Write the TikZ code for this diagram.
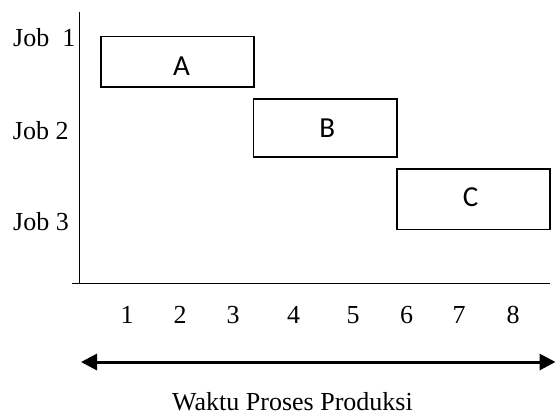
\documentclass[tikz,border=0pt]{standalone}
\usepackage{fontspec}
\setmainfont{Liberation Serif}
\newfontfamily\calibrifont{Carlito}
\usetikzlibrary{arrows.meta}
\begin{document}
\begin{tikzpicture}[x=1pt,y=-1pt,
  jobbox/.style={draw,line width=1.6pt,inner sep=0pt,anchor=north west},
  boxtext/.style={font=\calibrifont\fontsize{29}{34}\selectfont,inner sep=0pt},
  serif/.style={font=\fontsize{26}{30}\selectfont,inner sep=0pt},
  axis/.style={line width=1.6pt},
  timearrow/.style={line width=3pt,{Triangle[length=16pt,width=16pt]}-{Triangle[length=16pt,width=16pt]}}]
\useasboundingbox (0,0) rectangle (556,416);
% axes
\coordinate (vtop) at (79.5,11.5);
\coordinate (vbot) at (79.5,284);
\coordinate (hl) at (72,283.5);
\coordinate (hr) at (550,283.5);
\draw[axis] (vtop) -- (vbot);
\draw[axis] (hl) -- (hr);
% job boxes
\node[jobbox,minimum width=153.3pt,minimum height=50.3pt] (A) at (100,35.7) {};
\node[jobbox,minimum width=143.3pt,minimum height=57.7pt] (B) at (252.7,98.3) {};
\node[jobbox,minimum width=153.3pt,minimum height=60.4pt] (C) at (396,168.3) {};
\node[boxtext] (tA) at (181.5,66) {A};
\node[boxtext] (tB) at (327.3,128) {B};
\node[boxtext] (tC) at (470.5,197.5) {C};
% job labels
\node[serif,anchor=base west] (j1) at (13,46) {Job\ \ 1};
\node[serif,anchor=base west] (j2) at (12.7,139) {Job 2};
\node[serif,anchor=base west] (j3) at (13,230.7) {Job 3};
% numbers
\foreach \n/\x in {1/127,2/180,3/233,4/293.5,5/353,6/406.7,7/459,8/513}{
  \node[serif,anchor=base] (n\n) at (\x,323.3) {\n};
}
% time arrow
\coordinate (al) at (81,362);
\coordinate (ar) at (555.5,362);
\draw[timearrow] (al) -- (ar);
\node[serif,anchor=base] (title) at (292.5,410) {Waktu Proses Produksi};
\end{tikzpicture}
\end{document}
